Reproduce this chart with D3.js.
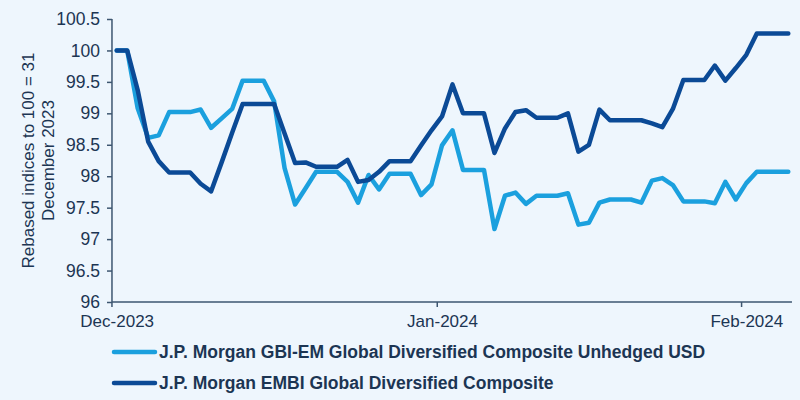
<!DOCTYPE html>
<html>
<head>
<meta charset="utf-8">
<script src="https://cdn.jsdelivr.net/npm/d3@7"></script>
<style>
  html, body { margin: 0; padding: 0; background: #eef6fd; }
  svg { display: block; }
  text { font-family: "Liberation Sans", Arial, sans-serif; }
</style>
</head>
<body>
<div id="chart"></div>
<script>
// ---- data ----
const seriesNames = [
  "J.P. Morgan GBI-EM Global Diversified Composite Unhedged USD",
  "J.P. Morgan EMBI Global Diversified Composite"
];
const gbiEm = [100, 100, 99.08, 98.61, 98.65, 99.02, 99.02, 99.02, 99.06, 98.77,
  98.92, 99.07, 99.52, 99.52, 99.52, 99.19, 98.13, 97.55, 97.81, 98.07,
  98.07, 98.07, 97.91, 97.58, 98.02, 97.79, 98.04, 98.04, 98.04, 97.70,
  97.87, 98.49, 98.73, 98.10, 98.10, 98.10, 97.16, 97.69, 97.74, 97.56,
  97.69, 97.69, 97.69, 97.73, 97.23, 97.26, 97.58, 97.63, 97.63, 97.63,
  97.58, 97.93, 97.97, 97.86, 97.60, 97.60, 97.60, 97.57, 97.91, 97.63,
  97.89, 98.07, 98.07, 98.07, 98.07];
const embi = [100, 100, 99.37, 98.55, 98.24, 98.06, 98.06, 98.06, 97.88, 97.76,
  98.22, 98.69, 99.15, 99.15, 99.15, 99.15, 98.68, 98.21, 98.22, 98.15,
  98.15, 98.15, 98.26, 97.91, 97.94, 98.07, 98.24, 98.24, 98.24, 98.49,
  98.73, 98.95, 99.46, 99.00, 99.00, 99.00, 98.37, 98.76, 99.02, 99.05,
  98.93, 98.93, 98.93, 99.00, 98.39, 98.50, 99.06, 98.89, 98.89, 98.89,
  98.89, 98.84, 98.78, 99.07, 99.53, 99.53, 99.53, 99.76, 99.52, 99.72,
  99.93, 100.27, 100.27, 100.27, 100.27];
const yTicks = [96, 96.5, 97, 97.5, 98, 98.5, 99, 99.5, 100, 100.5];
const xLabelIdx = [0, 31, 60];
const xLabels = ["Dec-2023", "Jan-2024", "Feb-2024"];
const xTickMarks = [-0.5, 30.5, 59.5];
const yTitle = ["Rebased indices to 100 = 31", "December 2023"];

// ---- layout ----
const W = 800, H = 400;
const colors = ["#1ba0de", "#0b4a96"];
const axisColor = "#3d5670";
const textColor = "#1c3553";

const svg = d3.select("#chart").append("svg")
  .attr("width", W).attr("height", H);
svg.append("rect").attr("width", W).attr("height", H).attr("fill", "#eef6fd");

const x = d3.scaleLinear().domain([0, gbiEm.length - 1]).range([116.7, 788.3]);
const y = d3.scaleLinear().domain([96, 100.5]).range([302, 19]);

// y axis
const yAxis = svg.append("g")
  .attr("transform", `translate(${x(-0.45)},0)`)
  .call(d3.axisLeft(y).tickValues(yTicks).tickSize(5).tickSizeOuter(0)
    .tickFormat(d => d3.format("")(d)));
yAxis.select(".domain").attr("stroke", axisColor).attr("stroke-width", 1.5)
  .attr("d", `M0,${y(100.5)}V${y(96)}`);
yAxis.selectAll(".tick line").attr("stroke", axisColor).attr("stroke-width", 1.5);
yAxis.selectAll(".tick text").attr("fill", textColor).attr("font-size", 17.5)
  .attr("x", -12);

// x axis line and tick marks
const xAxisMarks = svg.append("g")
  .attr("transform", `translate(0,${y(96)})`)
  .call(d3.axisBottom(x).tickValues(xTickMarks).tickSize(5).tickSizeOuter(0)
    .tickFormat(""));
xAxisMarks.select(".domain").attr("stroke", axisColor).attr("stroke-width", 1.5)
  .attr("d", `M${x(-0.45)},0H${x(64.35)}`);
xAxisMarks.selectAll(".tick line").attr("stroke", axisColor).attr("stroke-width", 1.5);

// x labels
const xAxisLabels = svg.append("g")
  .attr("transform", `translate(0,${y(96)})`)
  .call(d3.axisBottom(x).tickValues(xLabelIdx).tickSize(0)
    .tickFormat((d, i) => xLabels[i]));
xAxisLabels.select(".domain").remove();
xAxisLabels.selectAll(".tick text").attr("fill", textColor).attr("font-size", 17)
  .attr("dy", "0.71em").attr("y", 13);

// y title
const yt = svg.append("text")
  .attr("transform", `translate(28,${(y(96) + y(100.5)) / 2}) rotate(-90)`)
  .attr("text-anchor", "middle").attr("fill", textColor).attr("font-size", 17);
yTitle.forEach((t, i) => {
  yt.append("tspan").attr("x", 0).attr("dy", i === 0 ? "0.35em" : "1.15em").text(t);
});

// lines
const line = d3.line().x((d, i) => x(i)).y(d => y(d));
[gbiEm, embi].forEach((s, k) => {
  svg.append("path").datum(s)
    .attr("fill", "none").attr("stroke", colors[k]).attr("stroke-width", 4.5)
    .attr("stroke-linejoin", "round").attr("stroke-linecap", "round")
    .attr("d", line);
});

// legend
const legend = svg.append("g");
seriesNames.forEach((name, i) => {
  const ly = 352 + i * 31;
  legend.append("line").attr("x1", 114).attr("x2", 155).attr("y1", ly).attr("y2", ly)
    .attr("stroke", colors[i]).attr("stroke-width", 4.5).attr("stroke-linecap", "round");
  legend.append("text").attr("x", 159).attr("y", ly).attr("dy", "0.35em")
    .attr("fill", textColor).attr("font-size", 17.5).attr("font-weight", "bold")
    .text(name);
});
</script>
</body>
</html>
